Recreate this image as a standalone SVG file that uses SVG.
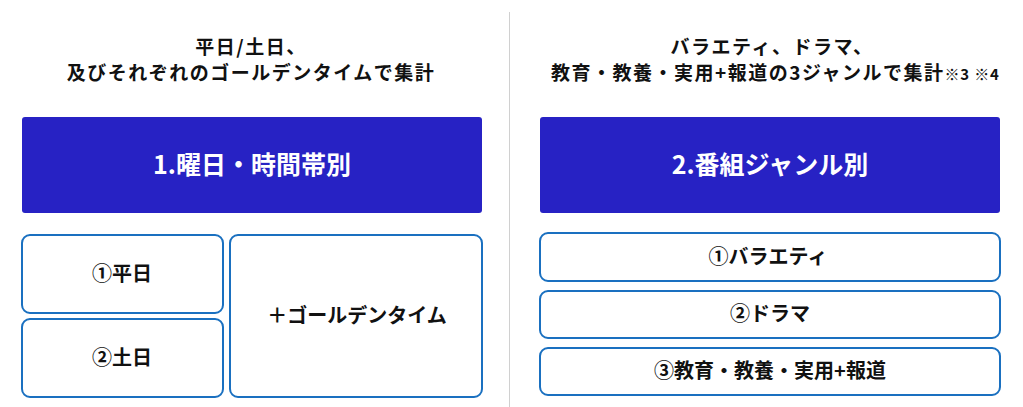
<svg xmlns="http://www.w3.org/2000/svg" width="1023" height="407" viewBox="0 0 1023 407">
<style>
text{font-family:"Noto Sans CJK JP","Noto Sans",sans-serif;font-weight:bold;text-anchor:middle;fill:#111}
.t{font-size:20px}
.tt{font-size:19px;letter-spacing:1.5px}
.h{font-size:25px;fill:#fff}
.s{font-size:15px;letter-spacing:0.8px}
.blue{fill:#2722C4}
.box{fill:#fff;stroke:#1A70C0;stroke-width:2}
.div{stroke:#d0d0d0;stroke-width:1}
</style>
<rect width="1023" height="407" fill="#fff"/>
<g id="connectors">
<line class="div" x1="509.5" y1="12" x2="509.5" y2="407"/>
</g>
<g id="title-left">
<text class="tt" x="251" y="54">平日/土日、</text>
<text class="tt" x="251" y="80">及びそれぞれのゴールデンタイムで集計</text>
</g>
<g id="title-right">
<text class="tt" x="772" y="54">バラエティ、ドラマ、</text>
<text class="tt" x="551" y="80" style="text-anchor:start">教育・教養・実用+報道の3ジャンルで集計<tspan class="s">※3 ※4</tspan></text>
</g>
<g id="head-1">
<rect class="blue" x="22" y="117" width="460" height="96" rx="3"/>
<text class="h" x="252" y="174">1.曜日・時間帯別</text>
</g>
<g id="weekday">
<rect class="box" x="22" y="235" width="201" height="78" rx="8"/>
<text class="t" x="122" y="281">①平日</text>
</g>
<g id="weekend">
<rect class="box" x="22" y="319" width="201" height="78" rx="8"/>
<text class="t" x="122" y="365">②土日</text>
</g>
<g id="golden">
<rect class="box" x="230" y="235" width="252" height="162" rx="8"/>
<text class="t" x="357" y="323">＋ゴールデンタイム</text>
</g>
<g id="head-2">
<rect class="blue" x="540" y="117" width="460" height="96" rx="3"/>
<text class="h" x="770" y="174">2.番組ジャンル別</text>
</g>
<g id="variety">
<rect class="box" x="540" y="233" width="460" height="48" rx="8"/>
<text class="t" x="768" y="264">①バラエティ</text>
</g>
<g id="drama">
<rect class="box" x="540" y="291" width="460" height="47" rx="8"/>
<text class="t" x="770" y="321">②ドラマ</text>
</g>
<g id="education">
<rect class="box" x="540" y="348" width="460" height="47" rx="8"/>
<text class="t" x="770" y="378">③教育・教養・実用+報道</text>
</g>
</svg>
